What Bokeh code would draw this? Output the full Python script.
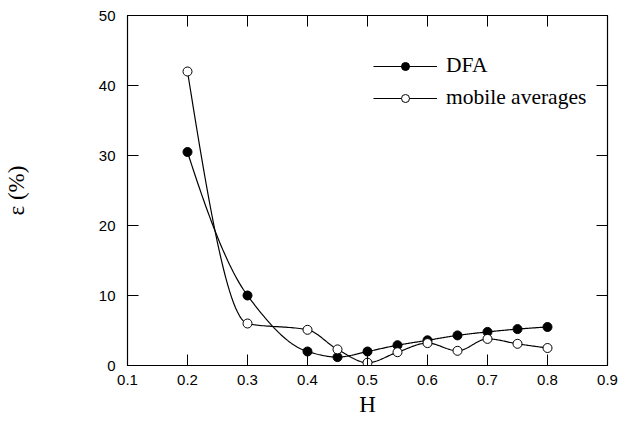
import numpy as np
from bokeh.plotting import figure
from bokeh.models import FixedTicker, LinearAxis, Legend, LegendItem, CustomLabelingPolicy
from bokeh.embed import file_html
from bokeh.resources import INLINE

# ---- data ----
H = [0.2, 0.3, 0.4, 0.45, 0.5, 0.55, 0.6, 0.65, 0.7, 0.75, 0.8]
dfa = [30.5, 10.0, 2.0, 1.2, 2.0, 2.9, 3.6, 4.3, 4.8, 5.2, 5.5]
mobile = [42.0, 6.0, 5.1, 2.3, 0.4, 1.9, 3.2, 2.1, 3.8, 3.1, 2.5]
x_ticks = [0.1, 0.2, 0.3, 0.4, 0.5, 0.6, 0.7, 0.8, 0.9]
y_ticks = [0, 10, 20, 30, 40, 50]
series_names = ["DFA", "mobile averages"]


def pchip_curve(x, y, n=30):
    x = np.asarray(x, float)
    y = np.asarray(y, float)
    h = np.diff(x)
    dl = np.diff(y) / h
    m = len(x)
    d = np.zeros(m)
    for k in range(1, m - 1):
        if dl[k - 1] * dl[k] > 0:
            w1 = 2 * h[k] + h[k - 1]
            w2 = h[k] + 2 * h[k - 1]
            d[k] = (w1 + w2) / (w1 / dl[k - 1] + w2 / dl[k])

    def end(h0, h1, d0, d1):
        s = ((2 * h0 + h1) * d0 - h0 * d1) / (h0 + h1)
        if np.sign(s) != np.sign(d0):
            s = 0.0
        elif np.sign(d0) != np.sign(d1) and abs(s) > abs(3 * d0):
            s = 3 * d0
        return s

    d[0] = end(h[0], h[1], dl[0], dl[1])
    d[-1] = end(h[-1], h[-2], dl[-1], dl[-2])
    xs, ys = [], []
    for k in range(m - 1):
        t = np.linspace(0, 1, n, endpoint=(k == m - 2))
        h00 = 2 * t**3 - 3 * t**2 + 1
        h10 = t**3 - 2 * t**2 + t
        h01 = -2 * t**3 + 3 * t**2
        h11 = t**3 - t**2
        xs.extend(x[k] + t * h[k])
        ys.extend(h00 * y[k] + h10 * h[k] * d[k] + h01 * y[k + 1] + h11 * h[k] * d[k + 1])
    return xs, ys


p = figure(width=640, height=426, x_range=(0.1, 0.9), y_range=(0, 50),
           output_backend="svg", toolbar_location=None,
           min_border_left=127, min_border_right=33,
           min_border_top=15, min_border_bottom=61)
p.background_fill_color = "white"
p.border_fill_color = "white"
p.outline_line_color = "black"
p.outline_line_width = 1.2
p.xgrid.visible = False
p.ygrid.visible = False

tick_font = "Liberation Sans"
serif = "Liberation Serif"

for ax, ticks in ((p.xaxis[0], x_ticks), (p.yaxis[0], y_ticks)):
    ax.ticker = FixedTicker(ticks=ticks)
    ax.major_tick_in = 11
    ax.major_tick_out = 0
    ax.minor_tick_line_color = None
    ax.major_tick_line_color = "black"
    ax.axis_line_color = "black"
    ax.major_label_text_font = tick_font
    ax.major_label_text_font_size = "15px"
    ax.major_label_text_color = "black"
    ax.axis_label_text_font = serif
    ax.axis_label_text_font_style = "normal"
    ax.axis_label_text_font_size = "23px"
    ax.axis_label_text_color = "black"

p.xaxis.axis_label = "H"
p.yaxis.axis_label = "ε (%)"
p.xaxis.major_label_standoff = 9
p.yaxis.major_label_standoff = 12
p.xaxis.axis_label_standoff = 4
p.yaxis.axis_label_standoff = 67

for loc, ticks in (("right", y_ticks), ("above", x_ticks)):
    a = LinearAxis(ticker=FixedTicker(ticks=ticks), major_tick_in=11, major_tick_out=0,
                   minor_tick_line_color=None,
                   major_label_policy=CustomLabelingPolicy(code="return []"),
                   major_label_standoff=0, axis_line_color="black",
                   major_tick_line_color="black")
    p.add_layout(a, loc)

xs1, ys1 = pchip_curve(H, dfa)
xs2, ys2 = pchip_curve(H, mobile)

l1 = p.line(xs1, ys1, line_color="black", line_width=1.2)
l2 = p.line(xs2, ys2, line_color="black", line_width=1.2)
s1 = p.scatter(H, dfa, size=9, marker="circle", fill_color="black", line_color="black", line_width=1)
s2 = p.scatter(H, mobile, size=9, marker="circle", fill_color="white", line_color="black", line_width=1)

legend = Legend(items=[LegendItem(label=series_names[0], renderers=[l1, s1]),
                       LegendItem(label=series_names[1], renderers=[l2, s2])],
                location=(246, 255), glyph_width=64, glyph_height=20,
                label_height=20, spacing=7, label_standoff=9, padding=0, margin=0,
                border_line_color=None, background_fill_alpha=0,
                label_text_font=serif, label_text_font_size="21.5px",
                label_text_color="black")
p.add_layout(legend)

open("out.html", "w").write(file_html(p, INLINE))
